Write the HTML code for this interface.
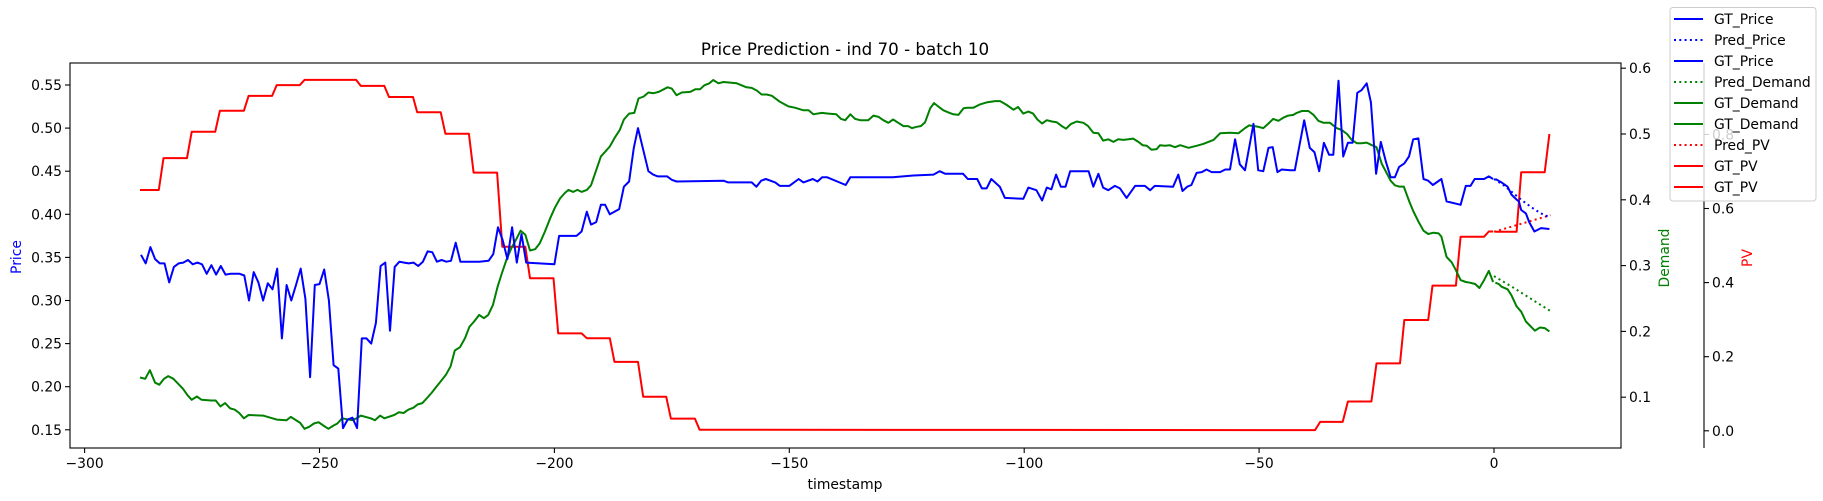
<!DOCTYPE html>
<html><head><meta charset="utf-8"><style>
html,body{margin:0;padding:0;background:#fff;}
svg{display:block;font-family:"DejaVu Sans","Liberation Sans",sans-serif;}
</style></head><body>
<svg id="chart" width="1823" height="501" viewBox="0 0 1823 501" xmlns="http://www.w3.org/2000/svg">
<rect x="0" y="0" width="1823" height="501" fill="#fff"/>
<text x="845" y="55" text-anchor="middle" font-size="16.7">Price Prediction - ind 70 - batch 10</text>
<g id="plot"></g>
<g id="axes"></g>
<text x="845" y="489" text-anchor="middle" font-size="13.9">timestamp</text>
<text transform="translate(21,257) rotate(-90)" text-anchor="middle" font-size="13.9" fill="#0000ff">Price</text>
<text transform="translate(1669,258) rotate(-90)" text-anchor="middle" font-size="13.9" fill="#008000">Demand</text>
<text transform="translate(1752,258) rotate(-90)" text-anchor="middle" font-size="13.9" fill="#ff0000">PV</text>
<g id="legend"></g>
</svg>
<script>
const xTicks = [-300, -250, -200, -150, -100, -50, 0];
const priceTicks = [0.15, 0.20, 0.25, 0.30, 0.35, 0.40, 0.45, 0.50, 0.55];
const demandTicks = [0.1, 0.2, 0.3, 0.4, 0.5, 0.6];
const pvTicks = [0.0, 0.2, 0.4, 0.6, 0.8];

const priceHistT = [-288,-287,-286,-285,-284,-283,-282,-281,-280,-279,-278,-277,-276,-275,-274,-273,-272,-271,-270,-269,-268,-267,-266,-265,-264,-263,-262,-261,-260,-259,-258,-257,-256,-255,-254,-253,-252,-251,-250,-249,-248,-247,-246,-245,-244,-243,-242,-241,-240,-239,-238,-237,-236,-235,-234,-233,-232,-231,-230,-229,-228,-227,-226,-225,-224,-223,-222,-221,-220,-216,-214,-213,-212,-211,-210,-209,-208,-207,-206,-200,-199,-195.3,-194.2,-193.1,-192.2,-191.1,-190.1,-189.2,-188.2,-186.2,-185.2,-184.1,-183.1,-182.2,-181.1,-180,-179,-178,-176,-175,-174,-164,-163,-158,-157,-156,-155,-153,-152,-150,-148,-147,-145,-144,-143,-142,-138,-137,-128,-123.6,-119.3,-118,-116.8,-113,-112,-110,-109,-108,-107,-105.2,-104.1,-100.2,-99.1,-97.4,-96.2,-95.2,-94.2,-93.2,-92.2,-91.2,-90.2,-86.3,-85.3,-84.2,-83.2,-82.1,-80.7,-79.6,-78.2,-76.4,-74.3,-73.2,-72.2,-68.3,-67.2,-66.3,-65.3,-64.4,-63.3,-62.2,-61.2,-60.1,-58.3,-57.2,-56.2,-55.1,-54.1,-53,-51.2,-50.2,-49.1,-48,-47.1,-46.1,-45.2,-43.4,-42.4,-40.4,-39.2,-38.2,-37.2,-36.2,-35.1,-34.2,-33.1,-32.1,-31.1,-30.1,-29.1,-28.2,-27.1,-26.2,-25.1,-24.1,-23,-22,-21.1,-20.2,-19.1,-18.1,-17.2,-16.1,-15,-14,-13,-11.2,-10.1,-7.1,-6,-5,-4.1,-2.1,-1.1,-0.2];
const priceHistV = [.353,.343,.362,.348,.343,.343,.321,.339,.343,.344,.347,.342,.344,.342,.331,.341,.330,.340,.330,.331,.331,.331,.329,.300,.333,.321,.300,.320,.313,.337,.256,.318,.300,.318,.337,.302,.211,.318,.319,.336,.300,.225,.221,.152,.162,.164,.152,.256,.256,.250,.274,.340,.344,.265,.339,.345,.344,.343,.344,.340,.345,.357,.356,.345,.347,.345,.346,.367,.345,.345,.346,.354,.385,.370,.348,.385,.344,.377,.344,.342,.375,.375,.380,.403,.388,.391,.411,.411,.400,.406,.432,.438,.477,.500,.475,.450,.446,.444,.444,.440,.438,.439,.437,.437,.432,.439,.441,.437,.433,.433,.441,.437,.441,.438,.443,.443,.434,.443,.443,.445,.446,.450,.447,.447,.441,.441,.430,.430,.441,.432,.419,.418,.431,.428,.416,.431,.429,.446,.432,.432,.450,.450,.432,.447,.431,.428,.433,.430,.419,.433,.433,.428,.433,.432,.446,.427,.432,.434,.448,.449,.452,.449,.449,.452,.452,.487,.458,.451,.505,.451,.450,.477,.478,.449,.452,.451,.451,.509,.477,.472,.450,.483,.469,.469,.555,.467,.483,.483,.541,.544,.552,.530,.447,.484,.461,.443,.443,.455,.459,.467,.487,.488,.441,.439,.434,.441,.415,.411,.433,.433,.441,.441,.444,.441];
const priceFutT = [0.3,1.6,2.9,3.7,4.8,5.3,5.8,6.8,7.5,8.6,10,11.8];
const priceFutV = [.441,.437,.432,.423,.417,.415,.405,.401,.391,.380,.384,.383];
const pricePredT = [0,2,4,6,8,10,12];
const pricePredV = [.441,.434,.425,.416,.408,.401,.396];

const demandHistT = [-288.2,-287.1,-286.1,-285,-284.1,-283.1,-282.2,-281.1,-279.1,-278.1,-277.2,-276.1,-275.1,-273.1,-272.1,-271.1,-270.1,-269,-268,-267.1,-266.1,-265.1,-262,-259.1,-257,-256.1,-254.1,-253.2,-252.2,-251.2,-250.2,-249.2,-248.1,-247,-246.2,-245.2,-243.1,-242.1,-241.2,-239.1,-238.2,-237.1,-236.2,-234.1,-233.1,-232.1,-231.1,-230,-229.1,-228.1,-227.2,-226.1,-225.2,-224.1,-223.1,-222.1,-221.2,-220.1,-219,-218.1,-217.1,-216,-215,-214.1,-213.1,-212.1,-211.2,-210.2,-209.2,-208.2,-207.2,-206.2,-205.2,-204.1,-203.1,-202,-200.9,-199.9,-198.8,-197.7,-197,-196,-195.1,-194.2,-193.1,-192.2,-191.1,-190.1,-189.2,-188.2,-187.1,-186.1,-185.2,-184.1,-183,-182.1,-181,-180,-178.9,-177.8,-175.9,-175,-174,-172.9,-171.1,-170,-169,-168.1,-167,-166.2,-165.1,-164,-161.2,-159.1,-158,-156.9,-155.9,-154.8,-153.7,-152,-150.2,-148.8,-147,-145.9,-144.9,-143.1,-141.7,-140,-139,-138.1,-137,-136,-134.9,-133.2,-132.1,-131,-130,-128.9,-127.9,-126.8,-125.7,-124.7,-123.9,-122.9,-122,-121.1,-120,-119.2,-118.3,-117.2,-116.2,-115.1,-114,-112.9,-112.1,-110.8,-109.4,-108,-106.2,-105.1,-103.7,-102.3,-101.3,-100.2,-99.1,-98.1,-97.2,-96.2,-95.2,-94.1,-93.1,-92,-91.1,-90.1,-88.8,-87.4,-86.4,-85.3,-84.2,-83.2,-82.1,-81,-80,-78.9,-77.8,-76.8,-75.7,-74.8,-73.9,-72.9,-71.8,-71.1,-70,-69,-67.9,-66.8,-65,-63.3,-61.9,-59.7,-58.3,-56.2,-54.4,-53,-52.1,-50.2,-49.1,-48,-47,-45.9,-44.8,-43.8,-42.7,-42,-40.9,-39.5,-38.4,-37.4,-36.3,-34.9,-33.5,-32.4,-31.3,-30.3,-29.2,-28.2,-27.1,-26,-25,-23.9,-22.8,-22,-21.1,-20.2,-19.2,-18,-17.2,-16.1,-15,-14,-12.9,-11.8,-11.2,-10.1,-9,-8.1,-7.1,-6,-5.1,-4,-3.1,-2.1,-1.1,-0.2];
const demandHistV = [.130,.128,.141,.122,.119,.128,.132,.128,.113,.103,.096,.101,.096,.095,.095,.086,.091,.083,.081,.076,.068,.073,.072,.066,.065,.070,.061,.052,.055,.060,.062,.057,.052,.057,.060,.068,.065,.068,.072,.068,.065,.072,.068,.073,.077,.076,.081,.084,.089,.091,.098,.107,.115,.125,.134,.147,.171,.176,.190,.207,.215,.225,.220,.225,.240,.268,.288,.309,.326,.339,.353,.347,.323,.325,.334,.352,.372,.388,.402,.411,.415,.412,.415,.412,.415,.422,.445,.466,.473,.481,.495,.506,.522,.531,.532,.554,.557,.563,.562,.564,.571,.569,.559,.563,.564,.568,.568,.574,.577,.582,.577,.579,.577,.571,.570,.566,.560,.560,.558,.549,.542,.540,.536,.536,.530,.532,.531,.530,.523,.521,.530,.523,.521,.521,.528,.526,.521,.517,.522,.517,.512,.512,.509,.511,.512,.518,.539,.547,.542,.536,.533,.530,.529,.539,.540,.540,.545,.548,.550,.550,.544,.537,.541,.531,.534,.531,.522,.516,.521,.519,.518,.512,.508,.515,.519,.517,.512,.502,.501,.490,.492,.488,.492,.491,.492,.493,.488,.483,.482,.476,.477,.483,.482,.483,.480,.483,.479,.482,.485,.491,.501,.502,.501,.509,.513,.511,.509,.516,.523,.520,.525,.528,.529,.532,.535,.535,.529,.520,.517,.517,.509,.506,.500,.491,.486,.486,.487,.483,.480,.455,.440,.429,.422,.420,.420,.397,.383,.367,.353,.348,.350,.349,.344,.313,.305,.293,.278,.275,.274,.272,.266,.278,.292,.275];
const demandFutT = [0.3,1,1.6,2.9,3.7,4.8,5.8,6.8,8.7,9.8,10.8,11.8];
const demandFutV = [.274,.272,.268,.264,.255,.238,.230,.215,.201,.206,.205,.200];
const demandPredT = [0,4,8,12];
const demandPredV = [.284,.267,.249,.231];

const pvHistT = [-288.2,-284.2,-283.2,-278.2,-277.2,-272.2,-271.2,-266.1,-265.1,-260.1,-259.1,-254.2,-253.2,-242.2,-241.2,-236.2,-235.2,-230.1,-229.2,-224.2,-223.2,-218.2,-217.2,-212.2,-211.1,-206.2,-205.2,-200.2,-199.2,-194.2,-193.1,-188.2,-187.2,-182.2,-181.1,-176.2,-175.2,-170.1,-169.1,-38.1,-37,-32.2,-31.1,-26.1,-25,-20,-19.1,-14,-13.1,-8.1,-7.1,-2.1,-1.1,-0.2];
const pvHistV = [.650,.650,.736,.736,.807,.807,.864,.864,.904,.904,.933,.933,.947,.947,.931,.931,.901,.901,.860,.860,.802,.802,.697,.697,.497,.497,.412,.412,.263,.263,.250,.250,.186,.186,.092,.092,.033,.033,.003,.002,.024,.024,.079,.079,.182,.182,.299,.299,.392,.392,.524,.524,.538,.538];
const pvFutT = [0.3,4.8,5.8,10.8,11.8];
const pvFutV = [.537,.537,.698,.698,.801];
const pvPredT = [0,4,8,12];
const pvPredV = [.537,.552,.567,.582];

const L = 70, R = 1621, T = 63, B = 448;
function sx(t){ return 1494 + t * 4.698; }
function syPrice(v){ return 85 + (0.55 - v) / 0.05 * 43.1; }
function syDemand(v){ return 463 - v * 658; }
function syPV(v){ return 430.8 - v * 370.5; }
const NS = 'http://www.w3.org/2000/svg';
const plot = document.getElementById('plot');
const axes = document.getElementById('axes');
const legend = document.getElementById('legend');

const clip = document.createElementNS(NS,'clipPath'); clip.id='clipA';
const cr = document.createElementNS(NS,'rect');
cr.setAttribute('x',L);cr.setAttribute('y',T);cr.setAttribute('width',R-L);cr.setAttribute('height',B-T);
clip.appendChild(cr); document.getElementById('chart').appendChild(clip);
plot.setAttribute('clip-path','url(#clipA)');

function line(ts, vs, yf, color, dotted, name){
  const p = document.createElementNS(NS,'polyline');
  p.setAttribute('points', ts.map((t,i)=>sx(t).toFixed(1)+','+yf(vs[i]).toFixed(1)).join(' '));
  p.setAttribute('fill','none'); p.setAttribute('stroke',color); p.setAttribute('stroke-width','2');
  p.setAttribute('stroke-linejoin','round');
  if(dotted){ p.setAttribute('stroke-dasharray','2,3.3'); }
  
  
  plot.appendChild(p);
}
line(pvHistT, pvHistV, syPV, '#ff0000', false, 'gt-pv-history-line');
line(pvFutT, pvFutV, syPV, '#ff0000', false, 'gt-pv-future-line');
line(pvPredT, pvPredV, syPV, '#ff0000', true, 'pred-pv-line');
line(demandHistT, demandHistV, syDemand, '#008000', false, 'gt-demand-history-line');
line(demandFutT, demandFutV, syDemand, '#008000', false, 'gt-demand-future-line');
line(demandPredT, demandPredV, syDemand, '#008000', true, 'pred-demand-line');
line(priceHistT, priceHistV, syPrice, '#0000ff', false, 'gt-price-history-line');
line(priceFutT, priceFutV, syPrice, '#0000ff', false, 'gt-price-future-line');
line(pricePredT, pricePredV, syPrice, '#0000ff', true, 'pred-price-line');

function seg(x1,y1,x2,y2,parent){
  const l=document.createElementNS(NS,'line');
  l.setAttribute('x1',x1);l.setAttribute('y1',y1);l.setAttribute('x2',x2);l.setAttribute('y2',y2);
  l.setAttribute('stroke','#000');l.setAttribute('stroke-width','1.1');
  parent.appendChild(l); return l;
}
function txt(x,y,s,anchor,parent,size,color){
  const t=document.createElementNS(NS,'text');
  t.setAttribute('x',x);t.setAttribute('y',y);t.setAttribute('text-anchor',anchor);
  t.setAttribute('font-size',size||13.9); if(color) t.setAttribute('fill',color);
  t.textContent=s; parent.appendChild(t); return t;
}
const frame=document.createElementNS(NS,'rect');
frame.setAttribute('x',L);frame.setAttribute('y',T);frame.setAttribute('width',R-L);frame.setAttribute('height',B-T);
frame.setAttribute('fill','none');frame.setAttribute('stroke','#000');frame.setAttribute('stroke-width','1.1');


axes.appendChild(frame);
const pvSpine = seg(1704,T,1704,B,axes);



function fmtMinus(v){ return v<0 ? '\u2212'+Math.abs(v) : String(v); }
xTicks.forEach(v=>{
  const x=sx(v); seg(x,B,x,B+5,axes);
  const t=txt(x,B+20,fmtMinus(v),'middle',axes);
  
  
});
priceTicks.forEach(v=>{
  const y=syPrice(v); seg(L-5,y,L,y,axes);
  const t=txt(L-8,y+5,v.toFixed(2),'end',axes);
  
  
});
demandTicks.forEach(v=>{
  const y=syDemand(v); seg(R,y,R+5,y,axes);
  const t=txt(R+8,y+5,v.toFixed(1),'start',axes);
  
  
});
pvTicks.forEach(v=>{
  const y=syPV(v); seg(1704,y,1709,y,axes);
  const t=txt(1712,y+5,v.toFixed(1),'start',axes);
  
  
});

const legendLabels = ['GT_Price','Pred_Price','GT_Price','Pred_Demand','GT_Demand','GT_Demand','Pred_PV','GT_PV','GT_PV'];
const legendColors = ['#0000ff','#0000ff','#0000ff','#008000','#008000','#008000','#ff0000','#ff0000','#ff0000'];
const legendDotted = [false,true,false,true,false,false,true,false,false];
const lb=document.createElementNS(NS,'rect');
lb.setAttribute('x',1670);lb.setAttribute('y',7.5);lb.setAttribute('width',146);lb.setAttribute('height',193.5);
lb.setAttribute('rx',3);lb.setAttribute('fill','rgba(255,255,255,0.8)');lb.setAttribute('stroke','#cccccc');


legend.appendChild(lb);
legendLabels.forEach((s,i)=>{
  const y=19+i*21;
  const g=document.createElementNS(NS,'g');
  
  
  const l=document.createElementNS(NS,'line');
  l.setAttribute('x1',1674);l.setAttribute('x2',1703);l.setAttribute('y1',y);l.setAttribute('y2',y);
  l.setAttribute('stroke',legendColors[i]);l.setAttribute('stroke-width','2');
  if(legendDotted[i]) l.setAttribute('stroke-dasharray','2,3.3');
  g.appendChild(l);
  txt(1714,y+5,s,'start',g);
  legend.appendChild(g);
});
</script>
</body></html>
